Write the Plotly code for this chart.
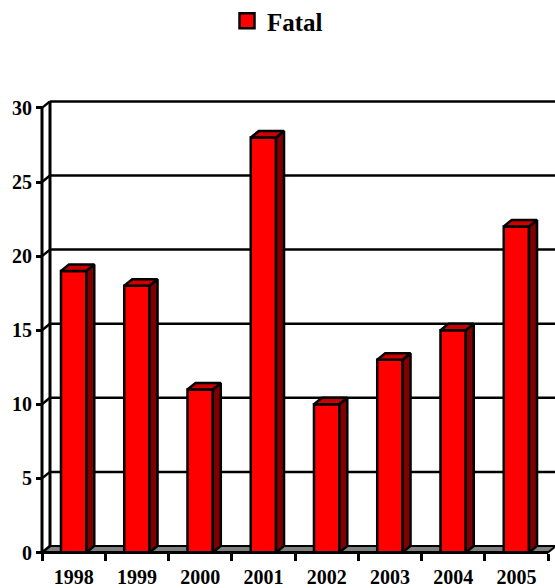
import plotly.graph_objects as go

years = ["1998", "1999", "2000", "2001", "2002", "2003", "2004", "2005"]
fatal = [19, 18, 11, 28, 10, 13, 15, 22]
y_ticks = [0, 5, 10, 15, 20, 25, 30]

W, H = 555, 588
PX_X, PX_Y = 63.25, 14.82      # pixels per data unit
ORG_X, ORG_Y = 42, 552.5       # pixel position of the data origin
L, R, T, B = 20, 0, 90, 18     # plot margins
dx, dy = 8 / PX_X, 6.5 / PX_Y  # 3D depth in data units
bw = 0.4
n = len(years)
ymax = y_ticks[-1]
centers = [i + 0.5 for i in range(n)]

x_range = [(L - ORG_X) / PX_X, (W - R - ORG_X) / PX_X]
y_range = [-(H - B - ORG_Y) / PX_Y, (ORG_Y - T) / PX_Y]
pos_y_axis = (ORG_X - L) / (W - L - R)
pos_x_axis = (H - B - ORG_Y) / (H - T - B)

RED, DARK, TOP, GREY = "#ff0000", "#800000", "#cc0000", "#808080"
FONT = "Liberation Serif"
LW = 2.5

fig = go.Figure()
fig.add_trace(go.Bar(x=centers, y=fatal, width=bw, name="Fatal", showlegend=False,
                     marker=dict(color=RED, line=dict(color="black", width=LW))))
# legend key, sized like the reference's square
fig.add_trace(go.Scatter(x=[None], y=[None], mode="markers", name="Fatal",
                         marker=dict(symbol="square", size=15, color=RED,
                                     line=dict(color="black", width=2.5))))

sx, sy, tx, ty = [], [], [], []
for c, v in zip(centers, fatal):
    r = c + bw / 2
    l = c - bw / 2
    sx += [r, r + dx, r + dx, r, r, None]
    sy += [0, dy, v + dy, v, 0, None]
    tx += [l, l + dx, r + dx, r, l, None]
    ty += [v, v + dy, v + dy, v, v, None]
fig.add_trace(go.Scatter(x=sx, y=sy, mode="lines", fill="toself", fillcolor=DARK,
                         line=dict(color="black", width=LW), showlegend=False, hoverinfo="skip"))
fig.add_trace(go.Scatter(x=tx, y=ty, mode="lines", fill="toself", fillcolor=TOP,
                         line=dict(color="black", width=LW), showlegend=False, hoverinfo="skip"))
# front axis lines
fig.add_trace(go.Scatter(x=[0, 0, n], y=[ymax, 0, 0], mode="lines",
                         line=dict(color="black", width=3), showlegend=False, hoverinfo="skip"))

shapes = []
floor = f"M 0 0 L {dx} {dy} L {n + dx} {dy} L {n} 0 Z"
shapes.append(dict(type="path", path=floor, xref="x", yref="y", fillcolor=GREY,
                   line=dict(color="black", width=2), layer="below"))
shapes.append(dict(type="line", xref="x", yref="y", x0=dx, x1=dx, y0=dy, y1=ymax + dy,
                   line=dict(color="black", width=3), layer="below"))
for v in y_ticks:
    shapes.append(dict(type="line", xref="x", yref="y", x0=0, y0=v, x1=dx, y1=v + dy,
                       line=dict(color="black", width=LW), layer="below"))
    if v > 0:
        shapes.append(dict(type="line", xref="x", yref="y", x0=dx, y0=v + dy, x1=x_range[1], y1=v + dy,
                           line=dict(color="black", width=LW), layer="below"))

tickfont = dict(family=FONT, size=20, color="black", weight="bold")
fig.update_layout(
    width=W, height=H, autosize=False,
    margin=dict(l=L, r=R, t=T, b=B),
    paper_bgcolor="white", plot_bgcolor="white",
    shapes=shapes, hovermode=False,
    legend=dict(xref="container", yref="container", x=0.5, y=1 - 21 / H,
                xanchor="center", yanchor="middle", orientation="h",
                font=dict(family=FONT, size=25, color="black", weight="bold"),
                itemsizing="trace", itemwidth=30),
    xaxis=dict(range=x_range, anchor="free", position=pos_x_axis, showgrid=False, zeroline=False,
               showline=False, tickmode="array", tickvals=centers, ticktext=years,
               ticks="", ticklabelstandoff=10, tickfont=tickfont,
               minor=dict(tickmode="array", tickvals=list(range(n + 1)), ticks="outside",
                          ticklen=7, tickwidth=2.5, tickcolor="black", showgrid=False)),
    yaxis=dict(range=y_range, anchor="free", position=pos_y_axis, showgrid=False, zeroline=False,
               showline=False, tickmode="array", tickvals=y_ticks, ticks="outside",
               ticklen=6, tickwidth=2.5, tickcolor="black", tickfont=tickfont),
)
fig.write_html("out.html", config={"displayModeBar": False},
               post_script="document.body.style.margin='0';document.documentElement.style.overflow='hidden';")
